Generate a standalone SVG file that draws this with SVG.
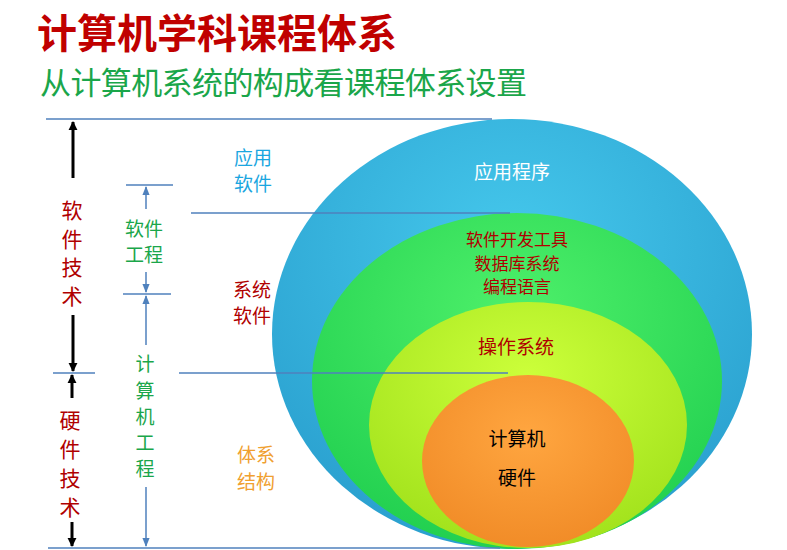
<svg xmlns="http://www.w3.org/2000/svg" width="787" height="550" viewBox="0 0 787 550">
<defs>
<style>
text{font-family:"Noto Sans CJK SC",sans-serif}
.ln{stroke:#4f81bd;stroke-width:1.5;fill:none}
.bk{stroke:#000;stroke-width:3;fill:none}
.bl{stroke:#4f81bd;stroke-width:1.5;fill:none}
</style>
<marker id="ab" viewBox="0 0 10 10" refX="9" refY="5" markerWidth="3" markerHeight="3.5" orient="auto"><path d="M0,0L10,5L0,10z" fill="#000"/></marker>
<marker id="au" viewBox="0 0 10 10" refX="9" refY="5" markerWidth="6" markerHeight="6" orient="auto"><path d="M0,1L10,5L0,9z" fill="#4f81bd"/></marker>
<radialGradient id="gb" cx="0.5" cy="0.3" r="0.7"><stop offset="0" stop-color="#45c8ec"/><stop offset="1" stop-color="#2aa0cf"/></radialGradient>
<radialGradient id="gg" cx="0.5" cy="0.3" r="0.7"><stop offset="0" stop-color="#4ef06a"/><stop offset="1" stop-color="#22d050"/></radialGradient>
<radialGradient id="gy" cx="0.5" cy="0.3" r="0.7"><stop offset="0" stop-color="#ccff3a"/><stop offset="1" stop-color="#a2e21c"/></radialGradient>
<radialGradient id="go" cx="0.5" cy="0.35" r="0.7"><stop offset="0" stop-color="#ffa640"/><stop offset="1" stop-color="#f08a26"/></radialGradient>
</defs>
<rect width="787" height="550" fill="#fff"/>
<text x="37" y="48" font-size="40" font-weight="bold" fill="#c00000">计算机学科课程体系</text>
<text x="40" y="94" font-size="31" fill="#1aa64a" textLength="487">从计算机系统的构成看课程体系设置</text>
<g id="app"><ellipse cx="512" cy="334" rx="240" ry="215" fill="url(#gb)"/>
<text x="512" y="179" font-size="19" fill="#fff" text-anchor="middle">应用程序</text></g>
<g id="tools"><ellipse cx="517" cy="381" rx="205" ry="168" fill="url(#gg)"/>
<text font-size="17" fill="#b00000" text-anchor="middle"><tspan x="517" y="246">软件开发工具</tspan><tspan x="517" y="270">数据库系统</tspan><tspan x="517" y="293">编程语言</tspan></text></g>
<g id="os"><ellipse cx="528" cy="425" rx="159" ry="123" fill="url(#gy)"/>
<text x="516" y="354" font-size="19" fill="#b00000" text-anchor="middle">操作系统</text></g>
<g id="hw"><ellipse cx="528" cy="461" rx="106" ry="86" fill="url(#go)"/>
<text font-size="19" fill="#000" text-anchor="middle"><tspan x="517" y="446">计算机</tspan><tspan x="517" y="485">硬件</tspan></text></g>
<g id="connectors">
<line class="ln" x1="46" y1="119" x2="492" y2="119"/>
<line class="ln" x1="191" y1="213" x2="510" y2="213"/>
<line class="ln" x1="179" y1="373" x2="508" y2="373"/>
<line class="ln" x1="48" y1="548" x2="500" y2="548"/>
<line class="ln" x1="53" y1="373" x2="95" y2="373"/>
<line class="ln" x1="126" y1="185" x2="173" y2="185"/>
<line class="ln" x1="123" y1="294" x2="171" y2="294"/>
<line class="bk" x1="73" y1="178" x2="73" y2="122" marker-end="url(#ab)"/>
<line class="bk" x1="73" y1="315" x2="73" y2="371" marker-end="url(#ab)"/>
<line class="bk" x1="72" y1="398" x2="72" y2="375" marker-end="url(#ab)"/>
<line class="bk" x1="72" y1="522" x2="72" y2="546" marker-end="url(#ab)"/>
<line class="bl" x1="146" y1="209" x2="146" y2="187" marker-end="url(#au)"/>
<line class="bl" x1="146" y1="272" x2="146" y2="292" marker-end="url(#au)"/>
<line class="bl" x1="146" y1="345" x2="146" y2="296" marker-end="url(#au)"/>
<line class="bl" x1="146" y1="487" x2="146" y2="546" marker-end="url(#au)"/>
</g>
<g font-size="21" fill="#b00000" text-anchor="middle">
<text x="72" y="218">软</text><text x="72" y="247">件</text><text x="72" y="275">技</text><text x="72" y="304">术</text>
<text x="70" y="428">硬</text><text x="70" y="457">件</text><text x="70" y="486">技</text><text x="70" y="515">术</text>
</g>
<g font-size="19" fill="#1aa64a" text-anchor="middle">
<text x="144" y="236">软件</text><text x="144" y="262">工程</text>
<text x="145" y="371">计</text><text x="145" y="398">算</text><text x="145" y="424">机</text><text x="145" y="450">工</text><text x="145" y="476">程</text>
</g>
<g font-size="19" text-anchor="middle">
<text x="253" y="165" fill="#1aa6e0">应用</text><text x="253" y="191" fill="#1aa6e0">软件</text>
<text x="252" y="297" fill="#b00000">系统</text><text x="252" y="323" fill="#b00000">软件</text>
<text x="256" y="462" fill="#f0a030">体系</text><text x="256" y="489" fill="#f0a030">结构</text>
</g>
</svg>
